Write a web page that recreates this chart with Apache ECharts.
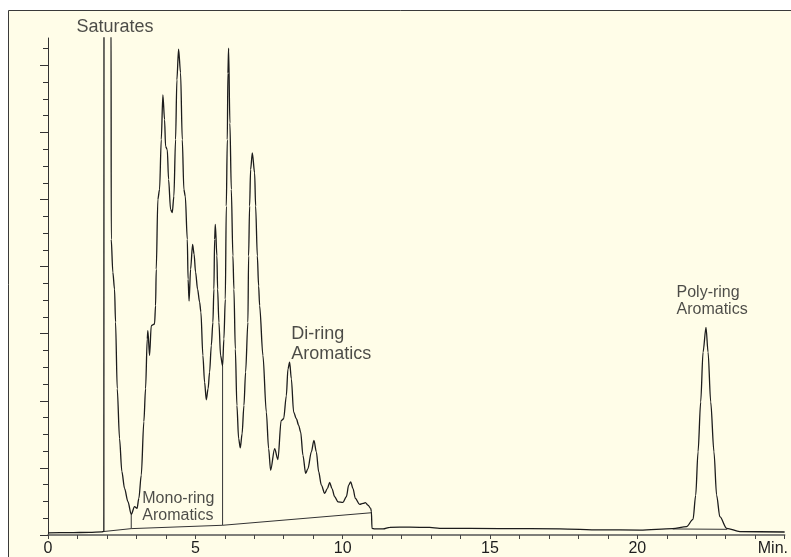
<!DOCTYPE html>
<html>
<head>
<meta charset="utf-8">
<title>Chromatogram</title>
<script src="https://cdn.jsdelivr.net/npm/echarts@6/dist/echarts.min.js"></script>
<style>
	html, body { margin: 0; padding: 0; background: #fff; }
	#chart { width: 791px; height: 557px; }
</style>
</head>
<body>
<div id="chart"></div>
<script>
// retention time (min), detector signal
let trace = [
	[0, 0.13], [0.73, 0.14], [1.41, 0.16], [1.82, 0.19], [1.895, 0.22],
	[1.9, 31], [2.14, 31], // saturates peak runs off scale
	[2.146, 17.62], [2.2, 15.67], [2.258, 14.66], [2.292, 12.7], [2.35, 8.72],
	[2.428, 5.75], [2.506, 3.79], [2.598, 2.78], [2.71, 2.0], [2.825, 1.23],
	[2.937, 1.69], [3.022, 1.59], [3.083, 2.18], [3.165, 3.57], [3.253, 6.76],
	[3.311, 8.72], [3.368, 11.69], [3.389, 12.18], [3.447, 10.7], [3.504, 12.48],
	[3.616, 12.58], [3.65, 13.67], [3.674, 15.85], [3.728, 20.01], [3.786, 20.6],
	[3.844, 23.57], [3.898, 26.24], [3.956, 24.76], [3.99, 23.17], [4.048, 22.98],
	[4.092, 21.2], [4.16, 19.41], [4.217, 19.22], [4.272, 20.2], [4.329, 23.57],
	[4.374, 27.13], [4.431, 28.96], [4.499, 27.55], [4.557, 23.57], [4.611, 20.6],
	[4.659, 20.2], [4.727, 17.63], [4.754, 15.25], [4.788, 13.95], [4.839, 15.85],
	[4.907, 17.33], [4.958, 16.74], [5.008, 15.67], [5.076, 14.66], [5.144, 13.9],
	[5.188, 13.3], [5.256, 10.7], [5.314, 9.11], [5.372, 8.06], [5.433, 8.72],
	[5.484, 9.71], [5.542, 11.29], [5.596, 12.68], [5.63, 14.66], [5.654, 17.63],
	[5.678, 18.52], [5.732, 16.64], [5.756, 14.66], [5.8, 12.68], [5.857, 10.7],
	[5.925, 10.08], [5.969, 11.69], [6.017, 14.06], [6.051, 19.61], [6.085, 23.57],
	[6.105, 27.53], [6.129, 29.02], [6.173, 24.56], [6.221, 20.6], [6.275, 16.64],
	[6.309, 14.66], [6.357, 11.09], [6.411, 7.72], [6.469, 5.75], [6.526, 5.19],
	[6.587, 6.04], [6.649, 7.72], [6.706, 9.71], [6.784, 12.68], [6.808, 16.64],
	[6.842, 19.61], [6.876, 21.79], [6.934, 22.78], [7.012, 21.59], [7.046, 19.61],
	[7.104, 16.64], [7.148, 14.85], [7.182, 13.67], [7.294, 10.7], [7.409, 7.33],
	[7.487, 5.15], [7.555, 3.86], [7.691, 5.15], [7.803, 4.5], [7.912, 6.82],
	[7.997, 6.93], [8.088, 8.3], [8.143, 9.9], [8.2, 10.3], [8.258, 9.31],
	[8.336, 7.33], [8.428, 6.93], [8.506, 6.54], [8.574, 6.14], [8.652, 4.75],
	[8.744, 3.67], [8.822, 3.96], [8.937, 4.96], [9.025, 5.64], [9.107, 4.96],
	[9.185, 3.77], [9.277, 2.97], [9.389, 2.48], [9.48, 2.77], [9.559, 3.13],
	[9.637, 2.77], [9.728, 2.28], [9.84, 1.98], [10.01, 1.94], [10.126, 2.28],
	[10.204, 2.97], [10.272, 3.17], [10.35, 2.77], [10.431, 2.18], [10.577, 1.82],
	[10.689, 1.88], [10.771, 1.93], [10.859, 1.78], [10.951, 1.59], [10.975, 1.39],
	[10.995, 0.4], [11.087, 0.36], [11.37, 0.36], [11.6, 0.46], [12.28, 0.47],
	[12.95, 0.45], [13.29, 0.4], [15.33, 0.38], [17.37, 0.37], [18.73, 0.31],
	[20.09, 0.29], [21.2, 0.38], [21.67, 0.5], [21.89, 0.93], [21.98, 2.36],
	[22.06, 4.96], [22.15, 7.93], [22.23, 10.9], [22.33, 12.38], [22.4, 10.9],
	[22.49, 7.93], [22.6, 4.96], [22.69, 2.38], [22.8, 1.09], [23.03, 0.4],
	[23.48, 0.2], [25, 0.18]
];

// integration baselines and drop lines
let aromaticsBaseline = [[1.85, 0.2], [2.825, 0.38], [5.925, 0.58], [10.995, 1.33]];
let monoDrop = [[2.825, 1.23], [2.825, 0.38]];
let diDrop = [[5.925, 10.08], [5.925, 0.58]];
let polyBaseline = [[21.2, 0.36], [23.05, 0.34]];

let xTicks = [0, 1, 2, 3, 4, 5, 6, 7, 8, 9, 10, 11, 12, 13, 14, 15, 16, 17, 18, 19, 20, 21, 22, 23, 24, 25];
let xLabels = [0, 5, 10, 15, 20];
let xUnitLabel = 'Min.';
let yMinorTicks = [0, 1, 2, 3, 4, 5, 6, 7, 8, 9, 10, 11, 12, 13, 14, 15, 16, 17, 18, 19, 20, 21, 22, 23, 24, 25, 26, 27, 28, 29];
let yMajorTicks = [0, 4, 8, 12, 16, 20, 24, 28];

// peak group names and where they sit
let peakNames = ['Saturates', 'Di-ring\nAromatics', 'Poly-ring\nAromatics', 'Mono-ring\nAromatics'];
let peakNamePos = [[2.275, 30.29], [8.258, 11.41], [21.33, 13.96], [3.2, 1.69]];

var font = 'Liberation Sans, Arial, sans-serif';
var ink = '#1e1e1e';

var chartDom = document.getElementById('chart');
var myChart = echarts.init(chartDom, null, { renderer: 'canvas' });

var labelStyles = [
	{ align: 'center', fontSize: 18, lineHeight: 20 },
	{ align: 'left', fontSize: 18, lineHeight: 20 },
	{ align: 'left', fontSize: 16, lineHeight: 17 },
	{ align: 'left', fontSize: 16, lineHeight: 17 },
];

var nameData = peakNames.map((n, i) => {
	return {
		name: n,
		value: peakNamePos[i],
		label: labelStyles[i],
	};
});

function segment(data) {
	return {
		type: 'line',
		data: data,
		showSymbol: false,
		symbol: 'none',
		silent: true,
		lineStyle: { color: '#333', width: 1 },
		z: 3,
	};
}

var yBase = {
	type: 'value',
	min: 0,
	max: 29.63,
	position: 'left',
	splitLine: { show: false },
	axisLabel: { show: false },
};

var option = {
	animation: false,
	backgroundColor: '#ffffff',
	textStyle: { fontFamily: font },
	graphic: [
		{
			type: 'rect',
			z: -100,
			shape: { x: 8.5, y: 10.5, width: 800, height: 600 },
			style: { fill: '#fffde8', stroke: '#3a3a3a', lineWidth: 1 },
		},
	],
	grid: { left: 48, top: 38, right: 6, bottom: 20 },
	xAxis: {
		type: 'value',
		min: 0,
		max: 25,
		splitLine: { show: false },
		axisLine: { show: true, lineStyle: { color: '#555', width: 1.5 } },
		axisTick: {
			show: true,
			length: 4,
			customValues: xTicks,
			lineStyle: { color: '#444' },
		},
		axisLabel: {
			show: true,
			customValues: xLabels.concat([24.6]),
			formatter: function(v) {
				return v > 24 ? xUnitLabel : String(v);
			},
			color: ink,
			fontSize: 16,
			fontFamily: font,
			margin: 6,
		},
	},
	yAxis: [
		Object.assign({}, yBase, {
			axisLine: { show: true, lineStyle: { color: '#333', width: 1 } },
			axisTick: { show: true, length: 5, customValues: yMinorTicks, lineStyle: { color: '#333' } },
		}),
		Object.assign({}, yBase, {
			axisLine: { show: false },
			axisTick: { show: true, length: 8, customValues: yMajorTicks, lineStyle: { color: '#333' } },
		}),
	],
	series: [
		{
			name: 'signal',
			type: 'line',
			data: trace,
			showSymbol: false,
			symbol: 'none',
			clip: true,
			smooth: 0.3,
			smoothMonotone: 'x',
			lineStyle: { color: '#1c1c1c', width: 1.3 },
			z: 4,
		},
		segment(aromaticsBaseline),
		segment(monoDrop),
		segment(diDrop),
		segment(polyBaseline),
		{
			name: 'peak names',
			type: 'scatter',
			data: nameData,
			symbolSize: 1,
			clip: false,
			silent: true,
			itemStyle: { color: 'rgba(0,0,0,0)' },
			label: {
				show: true,
				position: 'inside',
				verticalAlign: 'middle',
				formatter: '{b}',
				color: ink,
				fontFamily: font,
			},
			z: 5,
		},
	],
};

option && myChart.setOption(option);
</script>
</body>
</html>
